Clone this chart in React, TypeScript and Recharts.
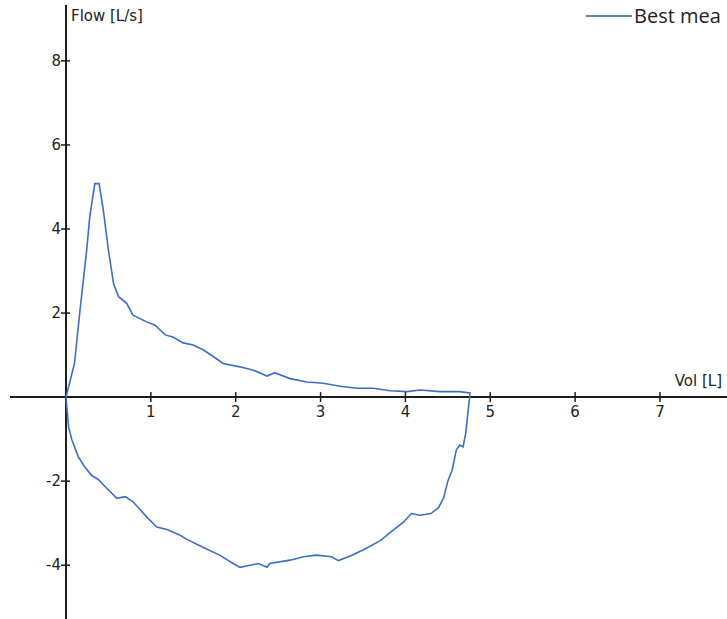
import React from "react"
import { LineChart, Line, XAxis, YAxis, ReferenceLine, ReferenceDot, Legend } from "recharts"

// expiratory limb (vol L, flow L/s)
const expVol = [0, 0.05, 0.1, 0.165, 0.24, 0.28, 0.34, 0.39, 0.44, 0.5, 0.56, 0.62, 0.715, 0.79, 0.95, 1.05, 1.17, 1.26, 1.38, 1.5, 1.62, 1.74, 1.85, 2.05, 2.21, 2.37, 2.46, 2.64, 2.84, 3.03, 3.23, 3.43, 3.62, 3.82, 4.02, 4.17, 4.41, 4.64, 4.76]
const expFlow = [0, 0.4, 0.8, 2.07, 3.42, 4.29, 5.08, 5.08, 4.45, 3.5, 2.7, 2.39, 2.23, 1.95, 1.79, 1.71, 1.48, 1.43, 1.29, 1.24, 1.12, 0.96, 0.8, 0.72, 0.64, 0.5, 0.58, 0.44, 0.36, 0.33, 0.26, 0.21, 0.21, 0.15, 0.13, 0.17, 0.13, 0.13, 0.1]

// inspiratory limb, back from RV to TLC
const inspVol = [4.76, 4.74, 4.71, 4.68, 4.64, 4.6, 4.55, 4.5, 4.45, 4.39, 4.3, 4.17, 4.07, 3.98, 3.86, 3.7, 3.5, 3.35, 3.21, 3.13, 2.95, 2.8, 2.64, 2.4, 2.37, 2.27, 2.17, 2.05, 1.97, 1.81, 1.62, 1.42, 1.34, 1.19, 1.07, 0.95, 0.79, 0.7, 0.6, 0.5, 0.38, 0.3, 0.22, 0.145, 0.07, 0.03, 0]
const inspFlow = [0.05, -0.31, -0.87, -1.18, -1.14, -1.26, -1.74, -2.0, -2.4, -2.63, -2.77, -2.81, -2.77, -2.97, -3.16, -3.42, -3.64, -3.78, -3.89, -3.8, -3.76, -3.8, -3.88, -3.96, -4.05, -3.96, -4.0, -4.05, -3.96, -3.76, -3.58, -3.38, -3.28, -3.15, -3.09, -2.85, -2.49, -2.37, -2.41, -2.21, -1.96, -1.86, -1.66, -1.42, -1.02, -0.71, 0]

const volTicks = [1, 2, 3, 4, 5, 6, 7]
const flowTicks = [8, 6, 4, 2, -2, -4]

const data = [
  ...expVol.map((v, i) => ({ vol: v, flow: expFlow[i] })),
  ...inspVol.map((v, i) => ({ vol: v, flow: inspFlow[i] })),
]

const axisColor = "#1e1e1e"
const lineColor = "#3d6ec7"
const font = "DejaVu Sans, sans-serif"

const XTick = (label: string) => (props: any) => (
  <g>
    <line x1={props.cx} x2={props.cx} y1={props.cy - 5} y2={props.cy + 5} stroke={axisColor} strokeWidth={1.5} />
    <text x={props.cx} y={props.cy + 20} textAnchor="middle" fontSize={15} fontFamily={font} fill="#222">{label}</text>
  </g>
)

const YTick = (label: string) => (props: any) => (
  <g>
    <line x1={props.cx - 5} x2={props.cx + 4} y1={props.cy} y2={props.cy} stroke={axisColor} strokeWidth={1.5} />
    <text x={props.cx - 5} y={props.cy + 5} textAnchor="end" fontSize={15} fontFamily={font} fill="#222">{label}</text>
  </g>
)

// the legend text is cut at the right edge in the source image
const renderLegend = () => (
  <div style={{ display: "flex", alignItems: "center", whiteSpace: "nowrap", fontFamily: "Open Sans, sans-serif", fontSize: 20, color: "#222" }}>
    <svg width={46} height={10}>
      <line x1={0} x2={46} y1={5} y2={5} stroke="#34589f" strokeWidth={1.5} />
    </svg>
    <span style={{ marginLeft: 2 }}>Best mea</span>
  </div>
)

export default function App() {
  return (
    <div style={{ position: "absolute", left: 0, top: 0, width: 727, height: 619, overflow: "hidden", background: "#fff" }}>
      <LineChart width={727} height={619} data={data} margin={{ top: 5, right: 0, bottom: 0, left: 10 }}>
        <XAxis dataKey="vol" type="number" domain={[-0.66, 7.79]} allowDataOverflow hide />
        <YAxis type="number" domain={[-5.28, 9.33]} allowDataOverflow hide />
        <ReferenceLine y={0} stroke={axisColor} strokeWidth={2} />
        <ReferenceLine x={0} stroke={axisColor} strokeWidth={2} />
        {volTicks.map(v => (
          <ReferenceDot key={"x" + v} x={v} y={0} shape={XTick(String(v))} />
        ))}
        {flowTicks.map(v => (
          <ReferenceDot key={"y" + v} x={0} y={v} shape={YTick(String(v))} />
        ))}
        <ReferenceDot
          x={0}
          y={9.33}
          shape={(p: any) => (
            <text x={p.cx + 5} y={p.cy + 16} fontSize={15} fontFamily={font} fill="#222">Flow [L/s]</text>
          )}
        />
        <ReferenceDot
          x={7.79}
          y={0}
          shape={(p: any) => (
            <text x={p.cx - 5} y={p.cy - 11} textAnchor="end" fontSize={15} fontFamily={font} fill="#222">Vol [L]</text>
          )}
        />
        <Legend
          layout="horizontal"
          verticalAlign="middle"
          align="center"
          content={renderLegend}
          wrapperStyle={{ position: "absolute", top: 2, left: 586, width: "auto" }}
        />
        <Line
          dataKey="flow"
          name="Best measurement"
          type="linear"
          stroke={lineColor}
          strokeWidth={1.6}
          dot={false}
          isAnimationActive={false}
        />
      </LineChart>
    </div>
  )
}
